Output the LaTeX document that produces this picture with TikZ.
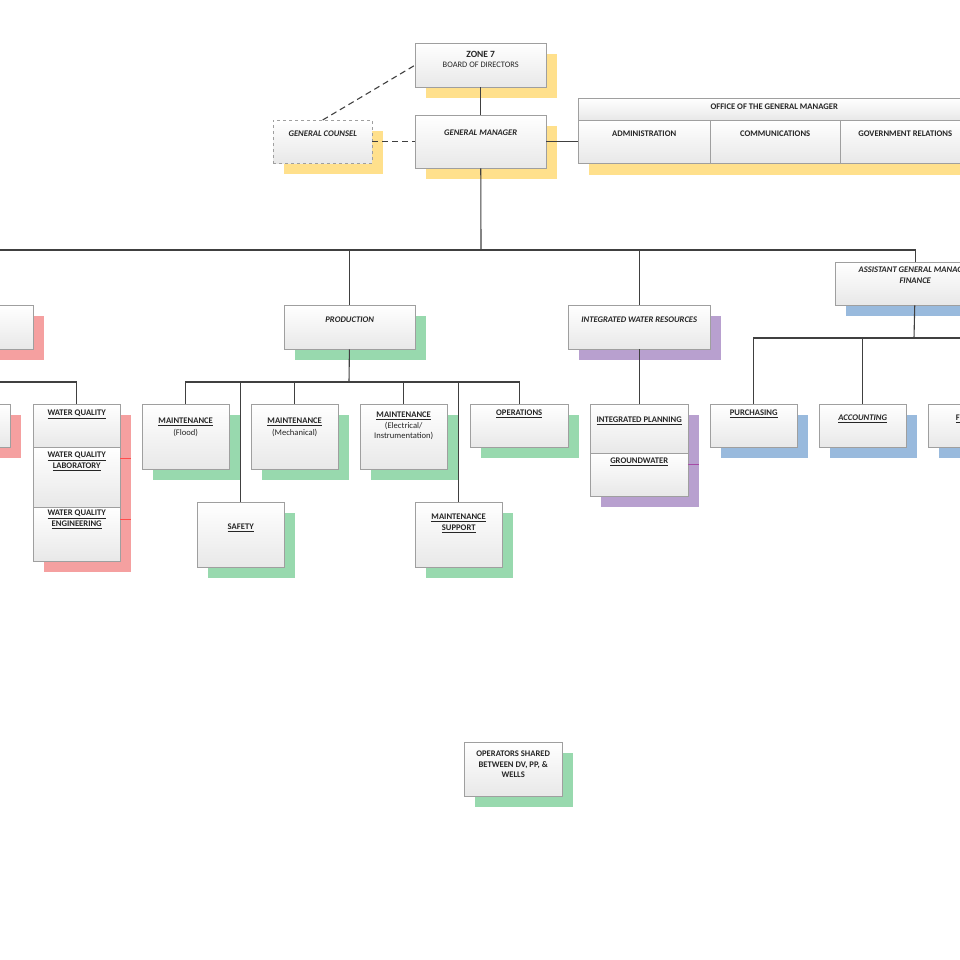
\documentclass[tikz,border=0pt]{standalone}
\usepackage{fontspec}
\setmainfont{Carlito}
\usetikzlibrary{shadows}
\definecolor{gmyellow}{RGB}{255,224,140}
\definecolor{qred}{RGB}{245,160,160}
\definecolor{pgreen}{RGB}{152,217,174}
\definecolor{rpurple}{RGB}{184,160,207}
\definecolor{fblue}{RGB}{153,186,221}
\definecolor{wire}{RGB}{64,64,64}
\newcommand\bx[4][6pt]{\parbox[c][#3pt][t]{#2pt}{\centering\vspace*{#1}#4}}
\newcommand\ul[1]{\underline{#1}}
\tikzset{
  box/.style={draw=gray!75, top color=white, bottom color=gray!18, inner sep=0pt,
    anchor=north west, font=\fontsize{8.6}{10.5}\selectfont\bfseries, text=black!85},
  sh/.style={copy shadow={shadow xshift=11pt, shadow yshift=-11pt, fill=#1, draw=none}},
  link/.style={draw=wire, line width=1.1pt},
  dashlink/.style={draw=wire, line width=1.1pt, dash pattern=on 6pt off 4pt}
}
\begin{document}
\begin{tikzpicture}[x=1pt,y=-1pt]
	\useasboundingbox (0,0) rectangle (960,960);
	\clip (0,0) rectangle (960,960);
	% top
	\node[box, sh=gmyellow] (zone) at (415,43) {\bx[8pt]{131}{44}{\fontsize{9.5}{11}\selectfont ZONE 7\\[0pt]\mdseries\fontsize{8.4}{10}\selectfont BOARD OF DIRECTORS}};
	\node[box, sh=gmyellow] (gm) at (415,115) {\bx[15pt]{131}{53}{\itshape GENERAL MANAGER}};
	\node[box, sh=gmyellow, dashed] (counsel) at (273,120) {\bx[11pt]{99}{43}{\itshape GENERAL COUNSEL}};
	\fill[gmyellow] (589,163) rectangle (971,175);
	\node[box] (ogm) at (578,98) {\bx[6pt]{392}{22}{OFFICE OF THE GENERAL MANAGER}};
	\node[box] (admin) at (578,120) {\bx[11pt]{132}{43}{ADMINISTRATION}};
	\node[box] (comm) at (710,120) {\bx[11pt]{130}{43}{COMMUNICATIONS}};
	\node[box] (gov) at (840,120) {\bx[11pt]{130}{43}{GOVERNMENT RELATIONS}};
	\draw[link] (zone) -- (gm);
	\draw[dashlink] (counsel.north) -- (zone.west);
	\draw[dashlink] (counsel) -- (gm);
	\draw[link] (gm) -- (admin);
	% second level
	\coordinate (bus) at (481,250);
	\node[box, sh=qred, minimum width=113pt, minimum height=44pt] (left1) at (-80,305) {};
	\node[box, sh=pgreen] (prod) at (284,305) {\bx[12pt]{131}{44}{\itshape PRODUCTION}};
	\node[box, sh=rpurple] (iwr) at (568,305) {\bx[12pt]{142}{44}{\itshape INTEGRATED WATER RESOURCES}};
	\node[box, sh=fblue] (agm) at (835,262) {\bx[5pt]{160}{43}{\itshape ASSISTANT GENERAL MANAGER\\FINANCE}};
	\draw[link] (gm) -- (bus);
	\draw[link] (-5,250) -- (bus) -| (agm);
	\draw[link] (bus) -| (prod);
	\draw[link] (bus) -| (iwr);
	% water quality
	\node[box, sh=qred, minimum width=90pt, minimum height=43pt] (left2) at (-80,404) {};
	\fill[qred] (44,415) rectangle (131,572);
	\node[box] (wq) at (33,404) {\bx{87}{43}{\ul{WATER QUALITY}}};
	\node[box] (wqlab) at (33,447) {\bx[5pt]{87}{60}{\ul{WATER QUALITY}\\\ul{LABORATORY}}};
	\node[box] (wqeng) at (33,507) {\bx[3pt]{87}{54}{\ul{WATER QUALITY}\\\ul{ENGINEERING}}};
	\draw[red!70, line width=1pt] (120,458) -- (131,458) (120,519) -- (131,519);
	\draw[link] (-5,382) -| (wq);
	% production
	\node[box, sh=pgreen] (mflood) at (142,404) {\bx[14pt]{87}{65}{\ul{MAINTENANCE}\\[1pt]\mdseries (Flood)}};
	\node[box, sh=pgreen] (safety) at (197,502) {\bx[22pt]{87}{65}{\ul{SAFETY}}};
	\node[box, sh=pgreen] (mmech) at (251,404) {\bx[14pt]{87}{65}{\ul{MAINTENANCE}\\[1pt]\mdseries (Mechanical)}};
	\node[box, sh=pgreen] (melec) at (360,404) {\bx[8pt]{87}{65}{\ul{MAINTENANCE}\\\mdseries (Electrical/\\Instrumentation)}};
	\node[box, sh=pgreen] (msupp) at (415,502) {\bx[12pt]{87}{65}{\ul{MAINTENANCE}\\\ul{SUPPORT}}};
	\node[box, sh=pgreen] (ops) at (470,404) {\bx{98}{43}{\ul{OPERATIONS}}};
	\coordinate (pbus) at (349,382);
	\draw[link] (prod) -- (pbus);
	\draw[link] (pbus) -| (mflood);
	\draw[link] (pbus) -| (safety);
	\draw[link] (pbus) -| (mmech);
	\draw[link] (pbus) -| (melec);
	\draw[link] (pbus) -| (msupp);
	\draw[link] (pbus) -| (ops);
	% integrated water resources
	\fill[rpurple] (601,415) rectangle (699,507);
	\node[box] (iplan) at (590,404) {\bx[13pt]{98}{49}{\ul{INTEGRATED PLANNING}}};
	\node[box] (gwater) at (590,453) {\bx[5pt]{98}{43}{\ul{GROUNDWATER}}};
	\draw[violet!70, line width=1pt] (688,464) -- (699,464);
	\draw[link] (iwr) -- (iplan);
	% finance
	\node[box, sh=fblue] (purch) at (710,404) {\bx{87}{43}{\ul{PURCHASING}}};
	\node[box, sh=fblue] (acct) at (819,404) {\bx[11pt]{87}{43}{\itshape\ul{ACCOUNTING}}};
	\node[box, sh=fblue] (fin) at (928,404) {\bx[11pt]{87}{43}{\ul{FINANCE}}};
	\coordinate (fbus) at (914,338);
	\draw[link] (agm) -- (fbus);
	\draw[link] (fbus) -| (purch);
	\draw[link] (fbus) -| (acct);
	\draw[link] (fbus) -- (965,338);
	% shared operators
	\node[box, sh=pgreen] (shared) at (464,742) {\bx[9pt]{98}{54}{OPERATORS SHARED\\BETWEEN DV, PP, \&\\WELLS}};
\end{tikzpicture}
\end{document}
